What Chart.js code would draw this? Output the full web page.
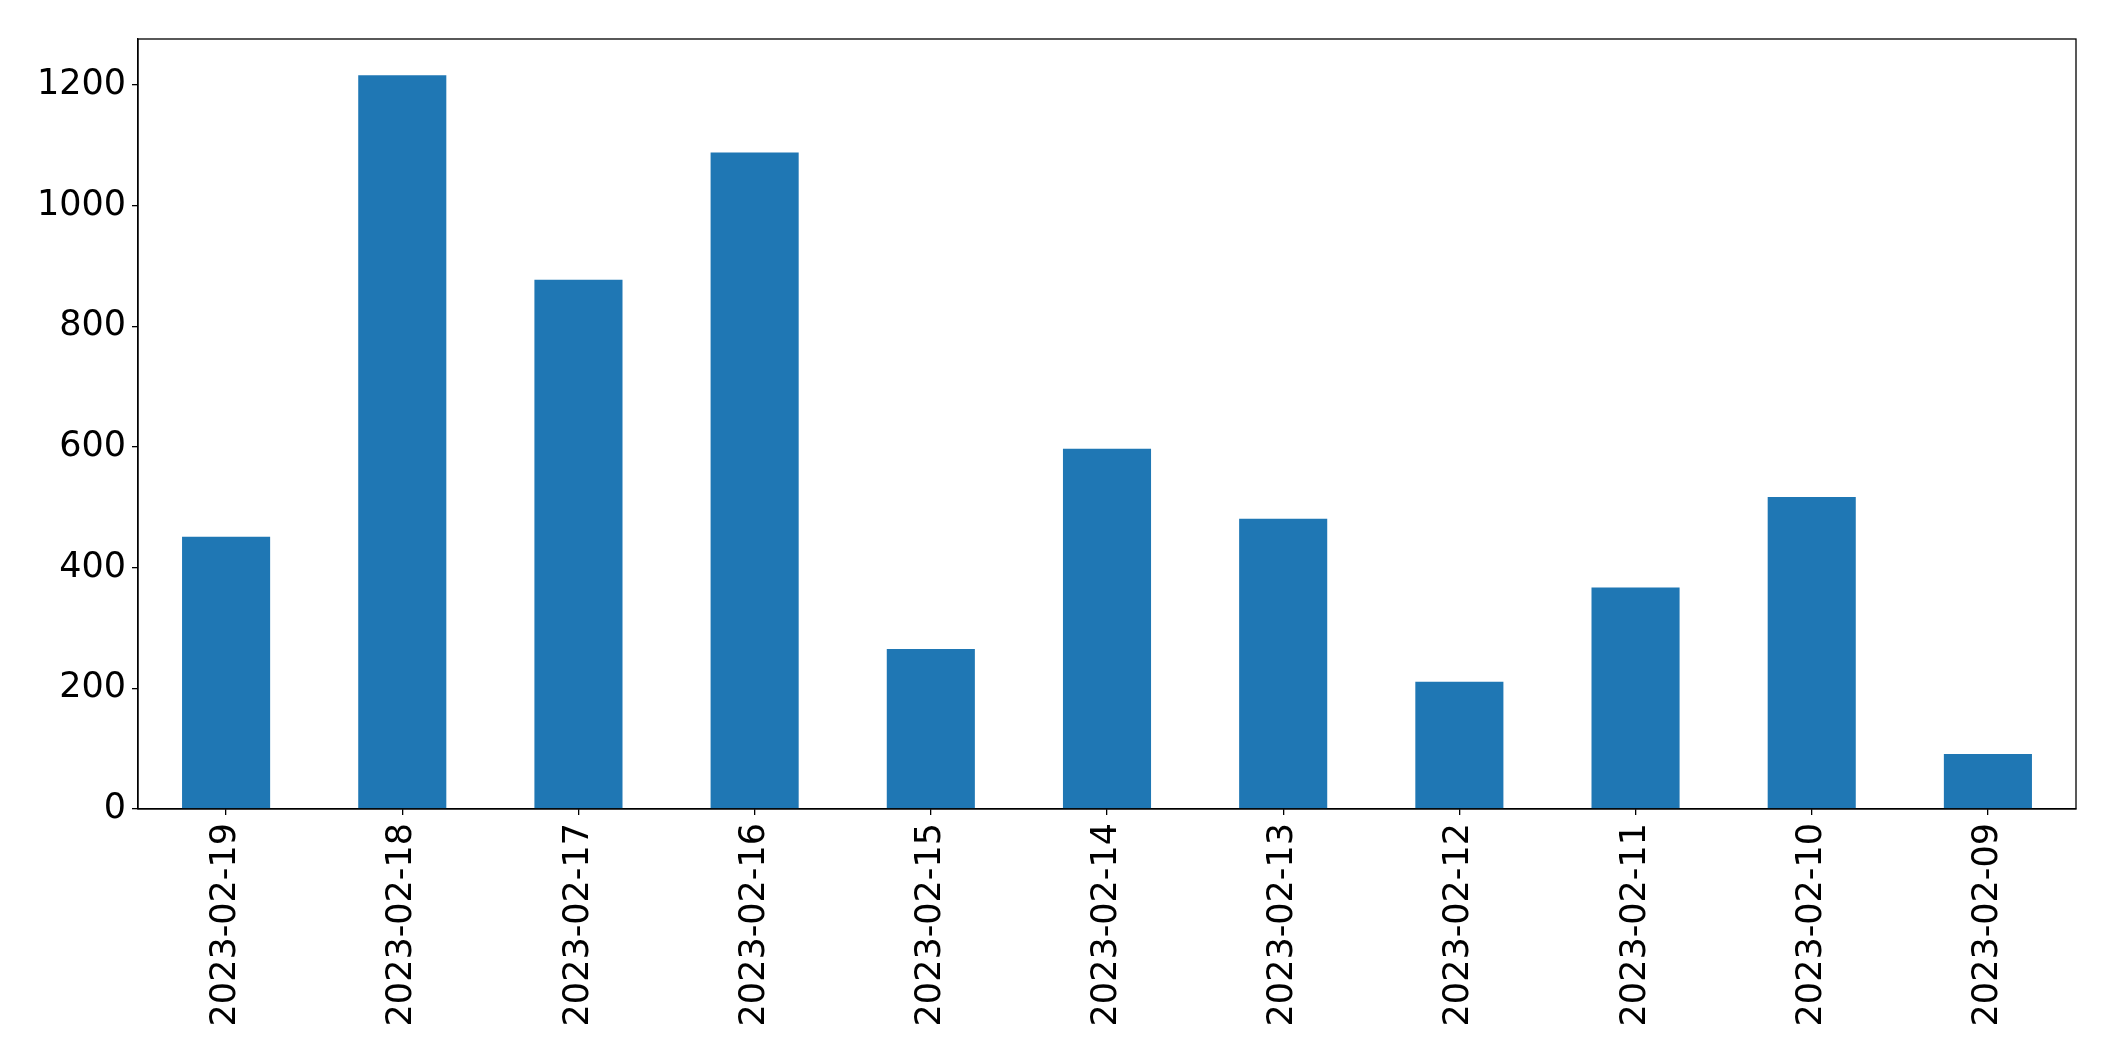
<!DOCTYPE html>
<html>
<head>
<meta charset="utf-8">
<script src="https://cdn.jsdelivr.net/npm/chart.js@4"></script>
<style>
  html, body { margin: 0; padding: 0; background: #fff; }
  canvas { display: block; }
</style>
</head>
<body>
<canvas id="barChart" width="2115" height="1061"></canvas>
<script>
const dates = ["2023-02-19", "2023-02-18", "2023-02-17", "2023-02-16", "2023-02-15", "2023-02-14",
  "2023-02-13", "2023-02-12", "2023-02-11", "2023-02-10", "2023-02-09"];
const counts = [451, 1216, 877, 1088, 265, 597, 481, 211, 367, 517, 91];
const yTicks = [0, 200, 400, 600, 800, 1000, 1200];

// draw top/right spines like the matplotlib frame
const frame = {
  id: "frame",
  afterDraw(chart) {
    const { ctx, chartArea: a } = chart;
    ctx.save();
    ctx.strokeStyle = "#000";
    ctx.lineWidth = 1.3;
    ctx.strokeRect(a.left, a.top, a.right - a.left, a.bottom - a.top);
    ctx.restore();
  }
};

const ctx = document.getElementById("barChart").getContext("2d");
new Chart(ctx, {
  type: "bar",
  data: {
    labels: dates,
    datasets: [{
      data: counts,
      backgroundColor: "#1f77b4",
      barPercentage: 0.5,
      categoryPercentage: 1.0
    }]
  },
  options: {
    responsive: false,
    animation: false,
    devicePixelRatio: 1,
    layout: { padding: { top: 39, right: 39, left: 0, bottom: 0 } },
    plugins: {
      legend: { display: false },
      tooltip: { enabled: false }
    },
    scales: {
      x: {
        offset: true,
        grid: { display: true, offset: false, drawOnChartArea: false, drawTicks: true, tickLength: 6, color: "#000", lineWidth: 1.3 },
        border: { display: true, color: "#000", width: 1.3 },
        ticks: {
          color: "#000",
          font: { family: "DejaVu Sans", size: 35 },
          minRotation: 90,
          maxRotation: 90,
          padding: 8,
          autoSkip: false
        },
        afterFit: function (scale) { scale.height = 1061 - 809; }
      },
      y: {
        min: 0,
        max: 1276,
        grid: { display: true, drawOnChartArea: false, drawTicks: true, tickLength: 6, color: "#000", lineWidth: 1.3 },
        border: { display: true, color: "#000", width: 1.3 },
        afterBuildTicks: function (scale) {
          scale.ticks = yTicks.map(v => ({ value: v }));
        },
        ticks: {
          color: "#000",
          font: { family: "DejaVu Sans", size: 35 },
          padding: 6,
          callback: v => String(v)
        },
        afterFit: function (scale) { scale.width = 138; }
      }
    }
  },
  plugins: [frame]
});
</script>
</body>
</html>
